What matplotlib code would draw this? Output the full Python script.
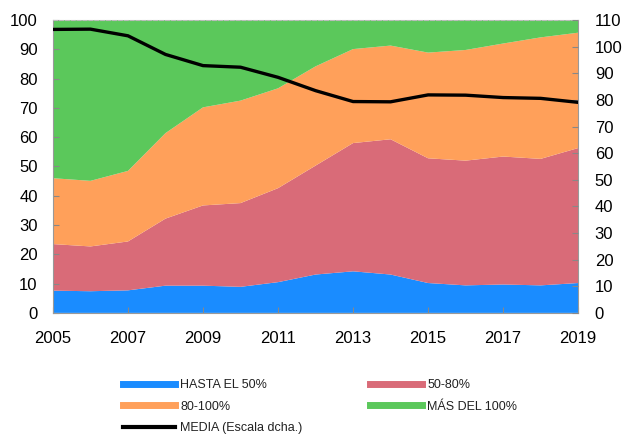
import matplotlib
matplotlib.use('Agg')
import matplotlib.pyplot as plt
from matplotlib.lines import Line2D
import numpy as np

plt.rcParams['font.family'] = ['Liberation Sans', 'DejaVu Sans']

years = list(range(2005, 2020))
# cumulative tops (left axis, %)
hasta_50 = [7.6, 7.4, 7.7, 9.3, 9.3, 8.9, 10.5, 13.1, 14.2, 13.1, 10.2, 9.4, 9.7, 9.4, 10.2]
top_50_80 = [23.5, 22.7, 24.4, 32.2, 36.7, 37.5, 42.6, 50.3, 58.0, 59.3, 52.8, 52.0, 53.4, 52.6, 56.3]
top_80_100 = [46.0, 45.1, 48.5, 61.4, 70.2, 72.5, 76.7, 84.2, 90.1, 91.3, 88.9, 89.8, 92.0, 94.1, 95.7]
media = [106.5, 106.6, 104.1, 97.1, 92.9, 92.3, 88.5, 83.5, 79.4, 79.3, 81.9, 81.8, 80.9, 80.6, 79.1]

s1 = np.array(hasta_50)
s2 = np.array(top_50_80) - s1
s3 = np.array(top_80_100) - np.array(top_50_80)
s4 = 100 - np.array(top_80_100)

colors = ['#1a8cff', '#d96b78', '#ffa05a', '#5bc85b']
labels = ['HASTA EL 50%', '50-80%', '80-100%', 'MÁS DEL 100%']

fig = plt.figure(figsize=(6.23, 4.37), dpi=100)
ax = fig.add_axes([0.085, 0.284, 0.843, 0.670])
ax.stackplot(years, s1, s2, s3, s4, colors=colors, linewidth=0)
ax.set_xlim(2005, 2019)
ax.set_ylim(0, 100)
ax.set_yticks(range(0, 101, 10))
ax.set_xticks(range(2005, 2020, 2))
ax.tick_params(direction='in', labelsize=12, length=4, color='#888888')
ax.tick_params(axis='y', pad=11)
ax.tick_params(axis='x', pad=13)
for side in ['left', 'right', 'bottom']:
    ax.spines[side].set_color('#999999')
ax.spines['top'].set_color('#bbbbbb')
ax.spines['top'].set_linestyle('--')

ax2 = ax.twinx()
ax2.plot(years, media, color='black', linewidth=2.4)
ax2.set_ylim(0, 110)
ax2.set_yticks(range(0, 111, 10))
ax2.tick_params(direction='in', labelsize=12, length=4, color='#888888', pad=12)
for side in ['left', 'right', 'bottom', 'top']:
    ax2.spines[side].set_visible(False)

handles = [Line2D([], [], color=c, linewidth=5) for c in colors]
handles.append(Line2D([], [], color='black', linewidth=3))
order = [handles[0], handles[2], handles[4], handles[1], handles[3]]
order_labels = [labels[0], labels[2], 'MEDIA (Escala dcha.)', labels[1], labels[3]]
leg = fig.legend(order, order_labels, loc='upper left', bbox_to_anchor=(0.197, 0.132),
                 ncol=2, frameon=False, fontsize=9, handlelength=4.2,
                 handletextpad=0.4, columnspacing=5.4, labelspacing=0.75,
                 borderaxespad=0, borderpad=0)
for t in leg.get_texts():
    t.set_color('#222222')

fig.savefig('out.png', dpi=100)
